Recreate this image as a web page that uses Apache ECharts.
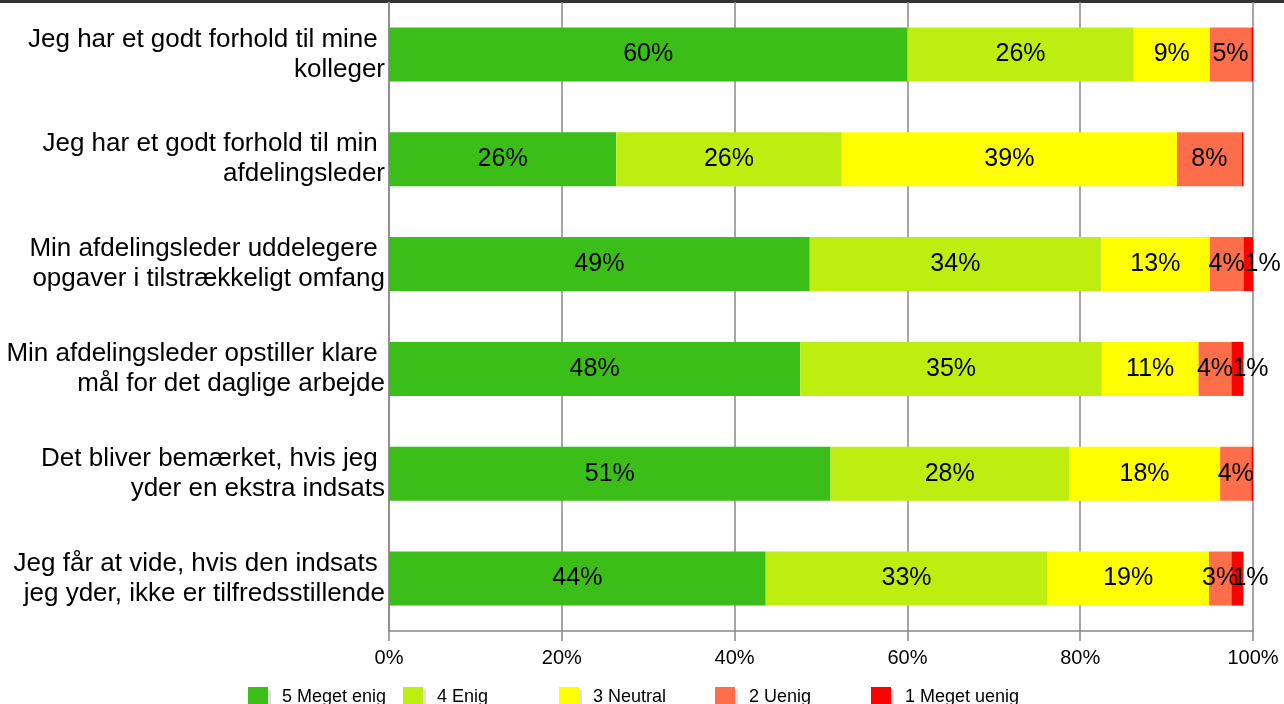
<!DOCTYPE html>
<html>
<head>
<meta charset="utf-8">
<script src="https://cdn.jsdelivr.net/npm/echarts@6/dist/echarts.min.js"></script>
<style>
html,body{margin:0;padding:0;background:#fff;}
#chart{width:1284px;height:704px;}
</style>
</head>
<body>
<div id="chart"></div>
<script>
const categories = [
  "Jeg har et godt forhold til mine \nkolleger",
  "Jeg har et godt forhold til min \nafdelingsleder",
  "Min afdelingsleder uddelegere \nopgaver i tilstrækkeligt omfang",
  "Min afdelingsleder opstiller klare \nmål for det daglige arbejde",
  "Det bliver bemærket, hvis jeg \nyder en ekstra indsats",
  "Jeg får at vide, hvis den indsats \njeg yder, ikke er tilfredsstillende"
];
const seriesNames = ["5 Meget enig", "4 Enig", "3 Neutral", "2 Uenig", "1 Meget uenig"];
const megetEnig  = [60.0, 26.3, 48.7, 47.6, 51.1, 43.6];
const enig       = [26.2, 26.1, 33.7, 34.9, 27.6, 32.6];
const neutral    = [8.8, 38.8, 12.6, 11.2, 17.5, 18.7];
const uenig      = [4.8, 7.5, 3.9, 3.8, 3.6, 2.6];
const megetUenig = [0.2, 0.2, 1.1, 1.4, 0.2, 1.4];
const xTicks = [0, 20, 40, 60, 80, 100];

const colors = ["#3BBF18", "#BDEE10", "#FFFF00", "#FF6E4A", "#FF0000"];
const seriesData = [megetEnig, enig, neutral, uenig, megetUenig];
const legendLefts = [248, 403, 559, 715, 871];
const FONT = "Liberation Sans, Arial, Helvetica, sans-serif";

const chart = echarts.init(document.getElementById('chart'), null, {renderer: 'canvas'});

const series = seriesData.map((d, i) => ({
  name: seriesNames[i],
  type: 'bar',
  stack: 'total',
  data: d,
  barWidth: '51.5%',
  itemStyle: {color: colors[i]},
  label: {
    show: true,
    position: i === 4 ? 'insideLeft' : 'inside',
    distance: 1,
    color: '#000',
    fontSize: 25,
    fontFamily: FONT,
    formatter: p => p.value < 0.5 ? '' : Math.round(p.value) + '%'
  },
  emphasis: {disabled: true}
}));

const legends = seriesNames.map((n, i) => ({
  data: [n],
  left: legendLefts[i],
  top: 687,
  padding: 0,
  itemWidth: 20,
  itemHeight: 20,
  icon: 'rect',
  itemStyle: {shadowColor: 'rgba(0,0,0,0.12)', shadowOffsetX: 3, shadowOffsetY: 3, shadowBlur: 0},
  textStyle: {fontSize: 18, color: '#000', fontFamily: FONT, padding: [0, 0, 6, 9]},
  selectedMode: false
}));

chart.setOption({
  animation: false,
  backgroundColor: '#fff',
  graphic: [{type: 'rect', shape: {x: 0, y: 0, width: 1284, height: 3}, style: {fill: '#333'}}],
  grid: {left: 389, right: 31, top: 2, bottom: 73, containLabel: false},
  legend: legends,
  xAxis: {
    type: 'value',
    min: xTicks[0],
    max: xTicks[xTicks.length - 1],
    interval: xTicks[1] - xTicks[0],
    axisLine: {show: true, lineStyle: {color: '#888', width: 1.5}},
    axisTick: {show: true, length: 10, lineStyle: {color: '#888', width: 1.5}},
    splitLine: {show: true, lineStyle: {color: '#888', width: 1.5}},
    axisLabel: {formatter: '{value}%', fontSize: 20, color: '#000', fontFamily: FONT, margin: 17}
  },
  yAxis: {
    type: 'category',
    inverse: true,
    data: categories,
    axisLine: {show: true, lineStyle: {color: '#888', width: 1.5}},
    axisTick: {show: false},
    axisLabel: {fontSize: 26, lineHeight: 30, color: '#000', fontFamily: FONT, margin: 4, align: 'right'}
  },
  series: series
});
</script>
</body>
</html>
